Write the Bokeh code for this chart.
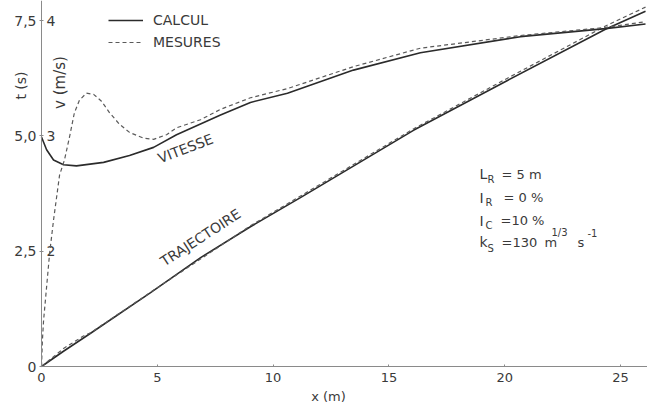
import math
from bokeh.plotting import figure
from bokeh.models import (Range1d, LinearAxis, FixedTicker, Label, Legend, LegendItem,
                          ColumnDataSource)
from bokeh.core.properties import value
from bokeh.embed import file_html
from bokeh.resources import INLINE

# ---------------- data ----------------
# Trajectory t(x)  [x in m, t in s]
traj_calc_x = [0.0, 0.95, 2.12, 4.71, 6.87, 9.02, 11.18, 16.06, 20.12, 24.35, 26.08]
traj_calc_t = [0.0, 0.33, 0.72, 1.60, 2.36, 3.03, 3.66, 5.12, 6.20, 7.31, 7.70]

traj_meas_x = [0.0, 0.95, 1.81, 2.12, 4.71, 9.02, 16.06, 20.12, 24.35, 26.08]
traj_meas_t = [0.0, 0.39, 0.66, 0.73, 1.61, 3.05, 5.15, 6.25, 7.38, 7.79]

# Velocity v(x)  [x in m, v in m/s]
vit_calc_x = [0.0, 0.22, 0.52, 0.95, 1.51, 2.68, 3.80, 4.84, 5.83, 7.73, 9.02,
              10.62, 13.47, 16.36, 20.68, 24.35, 26.08]
vit_calc_v = [2.99, 2.88, 2.79, 2.75, 2.74, 2.77, 2.83, 2.90, 3.01, 3.18, 3.29,
              3.37, 3.57, 3.72, 3.86, 3.93, 3.97]

vit_meas_x = [0.0, 0.04, 0.09, 0.22, 0.35, 0.52, 0.78, 0.99, 1.21, 1.42, 1.64,
              1.94, 2.25, 2.59, 2.94, 3.37, 3.80, 4.40, 4.84, 5.40, 5.83, 6.87,
              7.73, 9.02, 10.62, 13.47, 16.36, 20.68, 24.35, 26.08]
vit_meas_v = [1.00, 1.23, 1.40, 1.69, 1.98, 2.27, 2.66, 2.79, 2.99, 3.20, 3.31,
              3.37, 3.36, 3.30, 3.20, 3.10, 3.03, 2.98, 2.97, 3.01, 3.07, 3.14,
              3.23, 3.33, 3.41, 3.60, 3.76, 3.87, 3.94, 3.99]

x_ticks = [0, 5, 10, 15, 20, 25]
t_ticks = [0, 2.5, 5.0, 7.5]
t_tick_labels = ["0", "2,5", "5,0", "7,5"]
v_ticks = [2, 3, 4]
v_tick_labels = ["2", "3", "4"]

# ---------------- layout / styling ----------------
FONT = "DejaVu Sans"
TXT = "#3a3a3a"
AX = "#8a8a8a"
CALC_COLOR = "#2b2b2b"
MEAS_COLOR = "#5a5a5a"

W, H = 647, 405
X0_PX, PX_PER_M = 41, 23.16      # pixel of x=0, pixels per metre
Y0_PX, PX_PER_S = 366, 46.13     # pixel of t=0, pixels per second

x_start = -X0_PX / PX_PER_M
x_end = (W - X0_PX) / PX_PER_M
t_start = -(H - Y0_PX) / PX_PER_S
t_end = Y0_PX / PX_PER_S
v_start = 1 + t_start / 2.5
v_end = 1 + t_end / 2.5

p = figure(width=W, height=H, output_backend="svg", toolbar_location=None,
           x_range=Range1d(x_start, x_end), y_range=Range1d(t_start, t_end),
           x_axis_type=None, y_axis_type=None,
           min_border_left=0, min_border_right=0, min_border_top=0, min_border_bottom=0)
p.extra_y_ranges = {"v": Range1d(v_start, v_end)}
p.outline_line_color = None
p.xgrid.visible = False
p.ygrid.visible = False
p.background_fill_color = "white"
p.border_fill_color = "white"

# axes (fixed at the origin)
xaxis = LinearAxis(ticker=FixedTicker(ticks=x_ticks), fixed_location=0,
                   bounds=(0, x_end))
xaxis.axis_line_color = AX
xaxis.major_tick_line_color = AX
xaxis.major_tick_in = 2
xaxis.major_tick_out = 0
xaxis.minor_tick_line_color = None
xaxis.major_label_standoff = 6
xaxis.major_label_text_font = FONT
xaxis.major_label_text_font_size = "13px"
xaxis.major_label_text_color = TXT
p.add_layout(xaxis, "below")

yaxis = LinearAxis(ticker=FixedTicker(ticks=t_ticks), fixed_location=0,
                   bounds=(0, t_end),
                   major_label_overrides={t: s for t, s in zip(t_ticks, t_tick_labels)})
yaxis.axis_line_color = AX
yaxis.major_tick_line_color = AX
yaxis.major_tick_in = 2
yaxis.major_tick_out = 2
yaxis.minor_tick_line_color = None
yaxis.major_label_standoff = 3
yaxis.major_label_text_font = FONT
yaxis.major_label_text_font_size = "14px"
yaxis.major_label_text_color = TXT
p.add_layout(yaxis, "left")

# v tick labels drawn just inside the axis
vsrc = ColumnDataSource(dict(x=[0] * len(v_ticks), y=v_ticks, text=v_tick_labels))
p.text(x="x", y="y", text="text", source=vsrc, y_range_name="v", x_offset=5,
       text_align="left", text_baseline="middle", text_font=value(FONT),
       text_font_size="14px", text_color=TXT)

# curves
r_calc = p.line(traj_calc_x, traj_calc_t, line_color=CALC_COLOR, line_width=1.6)
r_meas = p.line(traj_meas_x, traj_meas_t, line_color=MEAS_COLOR, line_width=1.2,
                line_dash="4 3")
p.line(vit_calc_x, vit_calc_v, y_range_name="v", line_color=CALC_COLOR, line_width=1.6)
p.line(vit_meas_x, vit_meas_v, y_range_name="v", line_color=MEAS_COLOR, line_width=1.2,
       line_dash="4 3")

# legend
legend = Legend(items=[LegendItem(label="CALCUL", renderers=[r_calc]),
                       LegendItem(label="MESURES", renderers=[r_meas])],
                location=(108, H - 10 - 42), padding=0, margin=0, spacing=2,
                glyph_width=35, glyph_height=20, label_height=20, label_standoff=10,
                border_line_color=None, background_fill_alpha=0,
                label_text_font=FONT, label_text_font_size="14px",
                label_text_color=TXT)
p.add_layout(legend, "center")


# annotations: reference-pixel positions converted to data coordinates
def dx(px):
    return (px - X0_PX) / PX_PER_M


def dt(py):
    return (Y0_PX - py) / PX_PER_S


def lab(text, px, py, size="13px", angle=0.0, align="left", baseline="middle"):
    p.add_layout(Label(x=dx(px), y=dt(py), text=text, angle=angle,
                       text_font=FONT, text_font_size=size, text_color=TXT,
                       text_align=align, text_baseline=baseline))


lab("t (s)", 20, 85, size="14px", angle=math.pi / 2, align="center")
lab("v (m/s)", 59, 82, size="15px", angle=math.pi / 2, align="center")
lab("x (m)", 328, 396, align="center")
lab("VITESSE", 185, 148, size="14px", angle=math.radians(21), align="center")
lab("TRAJECTOIRE", 200, 237, size="14px", angle=math.radians(33), align="center")

lab("L", 479, 173, size="14px")
lab("R", 487, 179, size="10px")
lab("= 5 m", 501, 174)
lab("I", 479, 197, size="14px")
lab("R", 485, 202, size="10px")
lab("= 0 %", 503, 197)
lab("I", 479, 220, size="14px")
lab("C", 485, 225, size="10px")
lab("=10 %", 500, 220)
lab("k", 479, 241, size="14px")
lab("S", 487, 248, size="10px")
lab("=130", 501, 242)
lab("m", 544, 242)
lab("1/3", 551, 232, size="10px")
lab("s", 577, 242)
lab("-1", 587, 232, size="10px")

open("out.html", "w").write(file_html(p, INLINE))
